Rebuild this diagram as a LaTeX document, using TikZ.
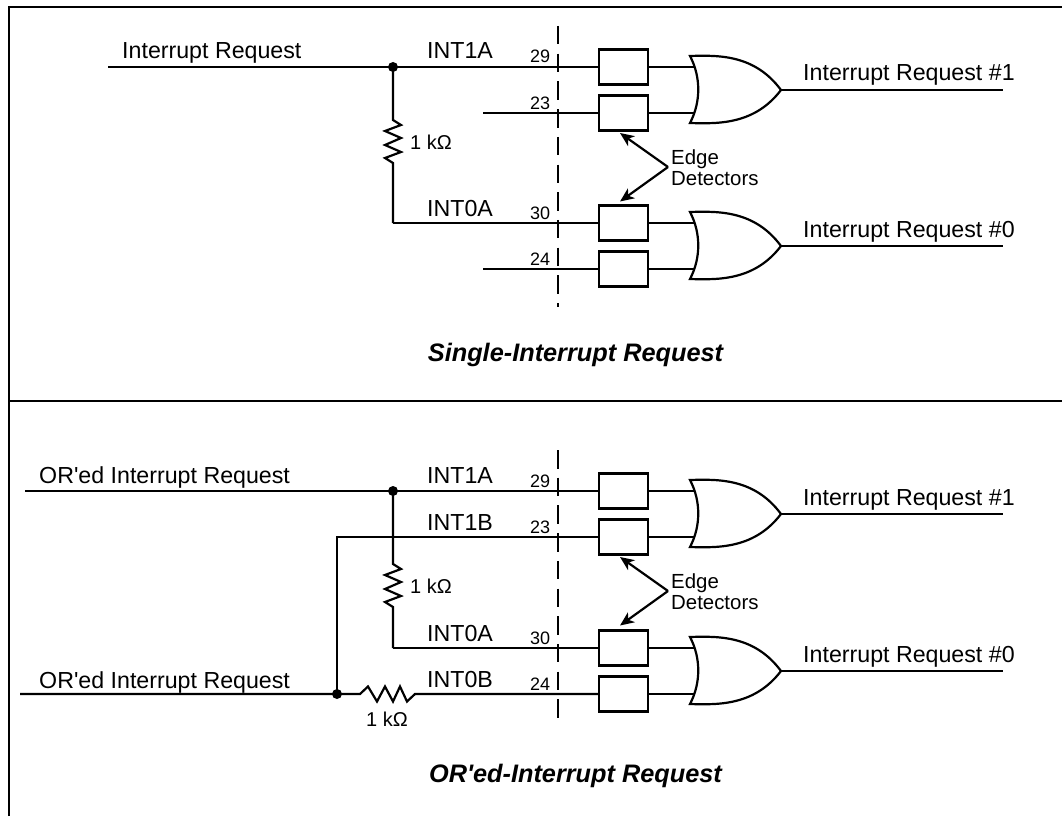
\documentclass[tikz,border=0pt]{standalone}
\usepackage{fontspec}
\setmainfont[Ligatures=NoCommon]{Liberation Sans}
\usetikzlibrary{arrows.meta,calc}
\newcommand{\fs}[1]{\fontsize{#1}{#1}\selectfont}
\tikzset{
  x=1pt,y=-1pt,
  wire/.style={line width=2.2pt,line cap=butt,line join=miter},
  frameline/.style={line width=2.4pt},
  detbox/.style={draw,line width=2.2pt,minimum width=49pt,minimum height=35pt,inner sep=0pt,outer sep=0pt,fill=white},
  lbl/.style={anchor=base west,inner sep=0pt,font=\fs{23.2}},
  pin/.style={anchor=base west,inner sep=0pt,font=\fs{18}},
  small/.style={anchor=base west,inner sep=0pt,font=\fs{20}},
  title/.style={anchor=base,inner sep=0pt,font=\fs{25.3}\bfseries\itshape},
  dot/.style={circle,fill,inner sep=0pt,minimum size=10pt},
  sep/.style={line width=2.2pt,dash pattern=on 18.5pt off 9.2pt},
  callout/.style={line width=2.2pt,-{Stealth[length=14pt,width=12pt,inset=4pt]}},
}
\newcommand{\gates}[3]{%
  \node[detbox] (#1a) at (623.5,67+#2) {};
  \node[detbox] (#1b) at (623.5,113+#2) {};
  \node[detbox] (#1c) at (623.5,223+#3) {};
  \node[detbox] (#1d) at (623.5,269+#3) {};
  \draw[wire] (690,56+#2) .. controls (720,55+#2) and (755,55+#2) .. (781,90+#2)
     .. controls (755,124+#2) and (720,124+#2) .. (690,123+#2)
     .. controls (701,102+#2) and (701,77+#2) .. cycle;
  \draw[wire] (690,212+#3) .. controls (720,211+#3) and (755,211+#3) .. (781,246+#3)
     .. controls (755,280+#3) and (720,280+#3) .. (690,279+#3)
     .. controls (701,258+#3) and (701,233+#3) .. cycle;
  \coordinate (#1ga) at (695,67+#2);
  \coordinate (#1gb) at (695,113+#2);
  \coordinate (#1gc) at (695,223+#3);
  \coordinate (#1gd) at (695,269+#3);
  \coordinate (#1gu) at (781,90+#2);
  \coordinate (#1gl) at (781,246+#3);
  \coordinate (#1ou) at (1003,90+#2);
  \coordinate (#1ol) at (1003,246+#3);
  \draw[wire] (#1a.east) -- (#1ga);
  \draw[wire] (#1b.east) -- (#1gb);
  \draw[wire] (#1c.east) -- (#1gc);
  \draw[wire] (#1d.east) -- (#1gd);
  \draw[wire] (#1gu) -- (#1ou);
  \draw[wire] (#1gl) -- (#1ol);
  \node[lbl] (#1tu) at (803,81+#2) {Interrupt Request \#1};
  \node[lbl] (#1tl) at (803,237+#3) {Interrupt Request \#0};
  \node[small,align=left,anchor=north west,font=\fs{20.4}] (#1edge) at (671,150+#2)
     {\fs{20.4}\baselineskip=20pt Edge\\Detectors};
  \coordinate (#1ap) at (668,167+#2);
  \coordinate (#1at) at (620,133+#2);
  \coordinate (#1ab) at (620,201.5+#2);
  \draw[callout] (#1ap) -- (#1at);
  \draw[callout] (#1ap) -- (#1ab);
  \node[pin] (#1p1) at (530,63+#2) {29};
  \node[pin] (#1p2) at (530,109+#2) {23};
  \node[pin] (#1p3) at (530,219.5+#3) {30};
  \node[pin] (#1p4) at (530,265.5+#3) {24};
}
\begin{document}
\begin{tikzpicture}
\useasboundingbox (0,0) rectangle (1062,816);
% frame
\coordinate (fbl) at (9,816);
\coordinate (ftl) at (9,7);
\coordinate (ftr) at (1062,7);
\coordinate (dl) at (9,401);
\coordinate (dr) at (1062,401);
\draw[frameline] (fbl) -- (ftl) -- (ftr);
\draw[frameline] (dl) -- (dr);

% separators
\coordinate (s1t) at (558,26);
\coordinate (s1b) at (558,307);
\coordinate (s2t) at (558,450);
\coordinate (s2b) at (558,717.5);

% ---------- upper panel ----------
\coordinate (ai) at (108,67);
\node[dot] (aj) at (393,67) {};
\coordinate (a23) at (483,113);
\coordinate (a24) at (483,269);
\coordinate (ak) at (393,223);
\gates{A}{0}{0}
\draw[wire] (ai) -- (Aa.west);
\draw[wire] (a23) -- (Ab.west);
\draw[wire] (ak) -- (Ac.west);
\draw[wire] (a24) -- (Ad.west);
\draw[wire] (aj.center) -- (393,120) -- (401,125) -- (385,131) -- (401,138) -- (385,145) -- (401,152) -- (385,158) -- (393,163) -- (ak);
\draw[sep] (s1t) -- (s1b);
\node[lbl] (a1) at (122,59) {Interrupt Request};
\node[lbl] (a2) at (427,59) {INT1A};
\node[lbl] (a3) at (427,216) {INT0A};
\node[small] (a4) at (410,149) {1 kΩ};
\node[title] (a5) at (575.5,361) {Single-Interrupt Request};

% ---------- lower panel ----------
\coordinate (bi) at (25,491);
\node[dot] (bj) at (393,491) {};
\coordinate (bk) at (393,648);
\coordinate (bi2) at (20,694);
\node[dot] (bm) at (337,694) {};
\coordinate (bn) at (337,537);
\gates{B}{424}{425}
\draw[wire] (bi) -- (Ba.west);
\draw[wire] (bm.center) -- (bn) -- (Bb.west);
\draw[wire] (bk) -- (Bc.west);
\draw[wire] (bi2) -- (360,694) -- (368,686.5) -- (377,701.5) -- (385,686.5) -- (393,701.5) -- (400,686.5) -- (407,701.5) -- (415,694) -- (Bd.west);
\draw[wire] (bj.center) -- (393,564) -- (401,569) -- (385,575) -- (401,582) -- (385,589) -- (401,596) -- (385,602) -- (393,607) -- (bk);
\draw[sep] (s2t) -- (s2b);
\node[lbl] (b1) at (39,483) {OR\textquotesingle ed Interrupt Request};
\node[lbl] (b2) at (39,688) {OR\textquotesingle ed Interrupt Request};
\node[lbl] (b3) at (427,483) {INT1A};
\node[lbl] (b4) at (427,530) {INT1B};
\node[lbl] (b5) at (427,641) {INT0A};
\node[lbl] (b6) at (427,687) {INT0B};
\node[small] (b7) at (410,593) {1 kΩ};
\node[small] (b8) at (366,726) {1 kΩ};
\node[title] (b9) at (575.5,782) {OR\textquotesingle ed-Interrupt Request};
\end{tikzpicture}
\end{document}
